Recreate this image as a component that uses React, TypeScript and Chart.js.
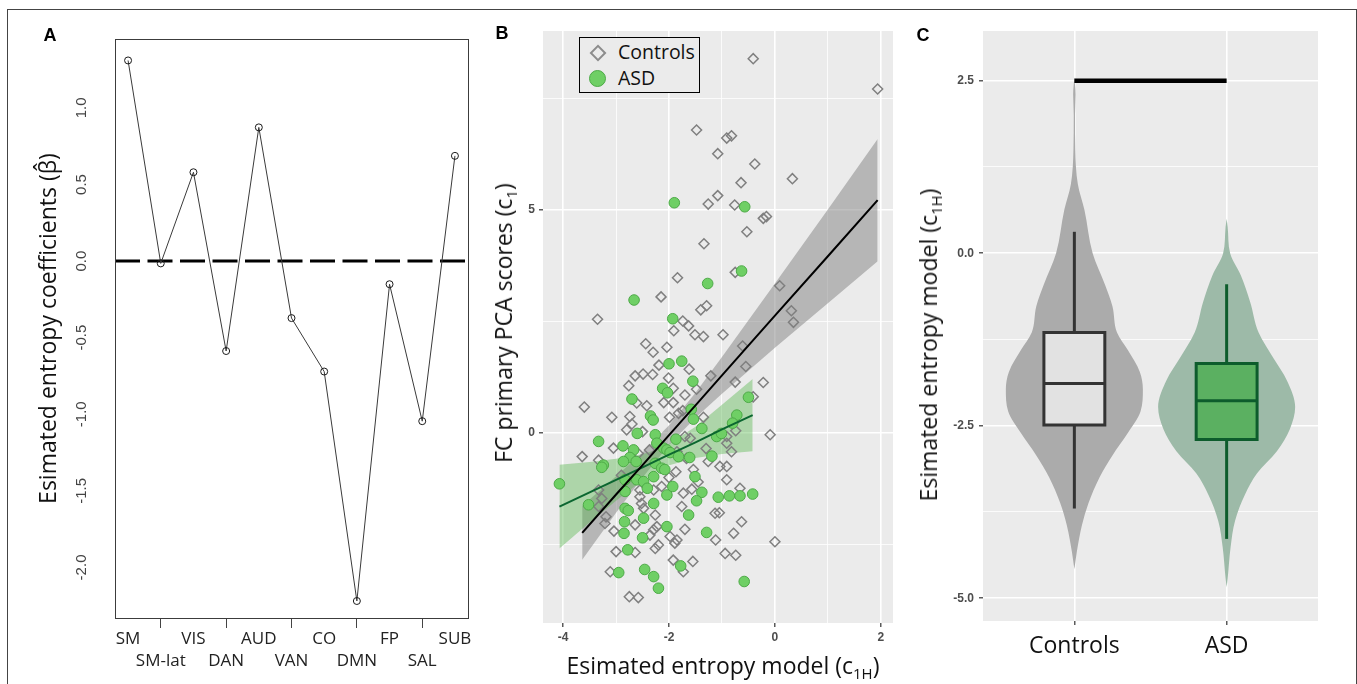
import React, { useEffect, useRef } from 'react';
import { Chart, registerables } from 'chart.js';

Chart.register(...registerables);

// ---------------- Panel A data ----------------
const networkLabels = ['SM', 'SM-lat', 'VIS', 'DAN', 'AUD', 'VAN', 'CO', 'DMN', 'FP', 'SAL', 'SUB'];
const entropyCoefficients = [1.31, -0.015, 0.58, -0.587, 0.873, -0.372, -0.721, -2.219, -0.151, -1.045, 0.687];
const coefficientTicks = [-2.0, -1.5, -1.0, -0.5, 0.0, 0.5, 1.0];
const A_X_MIN = 0.6;
const A_X_MAX = 11.4;

// ---------------- Panel B data ----------------
const controlsEntropy = [
  -1.48, -1.08, -1.26, -1.08, -0.41, 1.94, -0.91, -0.82, -0.38, 0.33, -0.64, -0.76, -1.34, -1.84, -2.15, -3.35,
  -1.29, -1.40, -1.74, -1.63, -1.91, -1.51, -1.35, -2.44, -2.30, -2.04, -2.19, -1.62, -2.64, -2.49, -2.31, -2.01,
  -1.21, -2.76, -1.92, -0.22, -0.16, -0.53, -0.75, 0.09, 0.31, 0.35, -0.98, -0.61, -0.55, -0.75, -0.22, -1.70,
  -1.48, -0.41, -3.60, -2.61, -2.42, -2.10, -1.92, -3.08, -2.74, -1.99, -1.74, -1.82, -1.35, -0.77, -2.80, -2.50,
  -1.70, -1.60, -0.91, -0.91, -0.74, -0.82, -0.09, -3.64, -3.33, -3.05, -2.58, -2.37, -1.85, -1.67, -1.26, -1.04,
  -0.91, -1.87, -1.54, -3.33, -3.27, -3.33, -3.19, -3.21, -2.55, -2.55, -2.29, -2.14, -1.73, -1.57, -0.91, -0.66,
  -1.13, -1.05, -1.76, -2.52, -2.48, -2.26, -2.64, -2.36, -2.29, -2.23, -1.98, -1.85, -1.89, -1.70, -1.12, -0.78,
  -0.63, 0.00, -3.00, -2.64, -2.26, -2.20, -0.94, -0.74, -3.11, -1.92, -1.73, -1.55, -2.75, -2.58, -3.04, -2.90,
  -2.00, -1.45, -1.30, -2.70,
];
const controlsPCA = [
  6.79, 6.26, 5.13, 5.32, 8.39, 7.71, 6.61, 6.66, 6.03, 5.70, 5.61, 5.11, 4.24, 3.48, 3.05, 2.55,
  2.85, 2.76, 2.51, 2.40, 2.29, 2.20, 2.16, 2.00, 1.81, 1.92, 1.52, 1.43, 1.28, 1.32, 1.31, 1.23,
  1.28, 1.06, 1.00, 4.81, 4.85, 4.51, 3.60, 3.30, 2.74, 2.48, 2.20, 1.95, 1.49, 1.14, 1.13, 0.85,
  0.98, 0.81, 0.58, 0.67, 0.61, 0.68, 0.68, 0.35, 0.37, 0.35, 0.50, 0.44, 0.35, 0.25, 0.07, 0.03,
  -0.08, -0.12, -0.08, -0.23, 0.05, -0.42, -0.04, -0.53, -0.61, -0.34, -0.46, -0.38, -0.42, -0.57, -0.64, -0.75,
  -0.75, -0.87, -0.82, -1.28, -1.47, -1.65, -1.88, -2.03, -1.28, -1.43, -1.28, -1.20, -1.35, -1.26, -1.05, -1.24,
  -1.80, -1.79, -1.65, -1.58, -1.69, -1.84, -2.06, -2.29, -2.17, -2.10, -2.32, -2.40, -2.47, -2.16, -2.40, -2.25,
  -1.99, -2.44, -2.66, -2.68, -2.59, -2.51, -2.70, -2.74, -3.11, -2.85, -3.11, -2.88, -3.67, -3.69, -2.20, -0.95,
  -1.00, -1.10, -0.35, 0.20,
];
const asdEntropy = [
  -1.90, -0.57, -1.27, -2.66, -1.93, -2.00, -1.76, -1.55, -2.12, -2.03, -0.63, -0.50, -2.70, -2.35, -2.30, -1.58,
  -1.54, -1.38, -0.72, -0.80, -2.60, -2.26, -2.23, -2.10, -2.04, -1.98, -1.87, -1.61, -1.19, -1.10, -1.01, -3.33,
  -3.24, -3.27, -2.87, -2.67, -2.74, -2.86, -2.62, -2.26, -2.14, -2.08, -1.82, -4.07, -3.52, -2.83, -2.61, -2.48,
  -2.41, -2.29, -2.83, -2.04, -1.93, -1.51, -1.38, -1.48, -1.07, -0.86, -0.66, -0.42, -1.63, -2.29, -2.83, -2.77,
  -2.84, -2.48, -2.04, -2.85, -2.50, -1.29, -2.78, -2.95, -2.46, -2.29, -2.20, -1.78, -0.58,
];
const asdPCA = [
  5.16, 5.07, 3.35, 2.98, 2.56, 1.55, 1.61, 1.16, 1.00, 0.90, 3.63, 0.80, 0.76, 0.38, 0.29, 0.53,
  0.31, 0.10, 0.40, 0.22, -0.01, -0.04, -0.23, -0.34, -0.38, -0.44, -0.14, -0.55, -0.52, -0.08, -0.01, -0.19,
  -0.72, -0.77, -0.29, -0.38, -0.55, -0.64, -0.64, -0.68, -0.79, -0.82, -0.53, -1.14, -1.61, -1.05, -1.05, -1.09,
  -1.24, -0.98, -1.31, -1.39, -1.20, -0.98, -1.33, -1.52, -1.44, -1.41, -1.41, -1.37, -1.84, -1.58, -1.69, -1.74,
  -1.99, -1.91, -2.10, -2.25, -2.35, -2.23, -2.62, -3.13, -3.06, -3.22, -3.48, -2.98, -3.33,
];
const controlsFitX = [-3.64, -3.0, -2.5, -2.0, -1.5, -1.0, 0.0, 1.0, 1.94];
const controlsFitY = [-2.24, -1.38, -0.72, -0.05, 0.62, 1.29, 2.63, 3.96, 5.22];
const controlsBandLow = [-2.84, -1.79, -1.0, -0.27, 0.34, 0.88, 1.91, 2.91, 3.85];
const controlsBandHigh = [-1.64, -0.97, -0.44, 0.17, 0.9, 1.7, 3.35, 5.01, 6.59];
const asdFitX = [-4.07, -3.5, -3.0, -2.5, -2.1, -1.5, -1.0, -0.42];
const asdFitY = [-1.65, -1.33, -1.05, -0.77, -0.54, -0.21, 0.08, 0.4];
const asdBandLow = [-2.59, -2.01, -1.52, -1.06, -0.76, -0.56, -0.47, -0.41];
const asdBandHigh = [-0.71, -0.65, -0.58, -0.48, -0.32, 0.14, 0.63, 1.21];
const scatterXTicks = [-4, -3, -2, -1, 0, 1, 2];
const scatterYTicks = [-2.5, 0, 2.5, 5, 7.5];

// ---------------- Panel C data ----------------
const groupLabels = ['Controls', 'ASD'];
const controlsViolinY = [-4.58, -4.33, -3.94, -3.62, -3.25, -2.93, -2.61, -2.29, -1.97, -1.72, -1.4, -1.15, -0.77, -0.45, 0.0, 0.63, 1.0, 1.5, 2.0, 2.3, 2.55];
const controlsViolinHalf = [0, 0.016, 0.05, 0.093, 0.165, 0.25, 0.35, 0.435, 0.45, 0.43, 0.35, 0.28, 0.25, 0.2, 0.12, 0.066, 0.023, 0.006, 0.004, 0.008, 0];
const asdViolinY = [-4.84, -4.71, -4.26, -3.88, -3.5, -3.19, -2.87, -2.55, -2.23, -1.84, -1.53, -1.15, -0.71, -0.32, 0.0, 0.38, 0.5];
const asdViolinHalf = [0, 0.007, 0.026, 0.055, 0.12, 0.2, 0.33, 0.415, 0.45, 0.395, 0.31, 0.21, 0.155, 0.093, 0.023, 0.007, 0];
// [lower whisker, Q1, median, Q3, upper whisker]
const controlsBoxStats = [-3.7, -2.49, -1.89, -1.15, 0.31];
const asdBoxStats = [-4.14, -2.7, -2.14, -1.6, -0.45];
const significanceLevel = 2.5;
const violinYTicks = [-5, -3.75, -2.5, -1.25, 0, 1.25, 2.5];

const SANS = "'Open Sans', sans-serif";
const TICKFONT = "'Liberation Sans', Arial, sans-serif";
const PANEL_BG = '#EBEBEB';
const TRANSPARENT = 'rgba(0,0,0,0)';

const panelBackground = {
  id: 'panelBackground',
  beforeDraw(chart: any) {
    const { ctx, chartArea } = chart;
    ctx.save();
    ctx.fillStyle = PANEL_BG;
    ctx.fillRect(chartArea.left, chartArea.top, chartArea.right - chartArea.left, chartArea.bottom - chartArea.top);
    ctx.restore();
  },
};

const boxFrame = {
  id: 'boxFrame',
  afterDatasetsDraw(chart: any) {
    const { ctx, chartArea } = chart;
    ctx.save();
    ctx.strokeStyle = '#3c3c3c';
    ctx.lineWidth = 1;
    ctx.strokeRect(chartArea.left + 0.5, chartArea.top + 0.5, chartArea.right - chartArea.left, chartArea.bottom - chartArea.top);
    ctx.restore();
  },
};

function buildChartA(canvas: HTMLCanvasElement) {
  return new Chart(canvas, {
    type: 'line',
    data: {
      datasets: [
        {
          data: entropyCoefficients.map((v, i) => ({ x: i + 1, y: v })),
          borderColor: '#3a3a3a',
          borderWidth: 1,
          pointRadius: 3.5,
          pointBorderWidth: 1,
          pointBorderColor: '#1a1a1a',
          pointBackgroundColor: TRANSPARENT,
          tension: 0,
          fill: false,
          order: 1,
        } as any,
        {
          data: [
            { x: A_X_MIN, y: 0 },
            { x: A_X_MAX, y: 0 },
          ],
          borderColor: '#000',
          borderWidth: 3,
          borderDash: [25, 7.5],
          pointRadius: 0,
          fill: false,
          order: 2,
        },
      ],
    },
    options: {
      animation: false,
      responsive: false,
      events: [],
      layout: { padding: { left: 0, right: 12, top: 29, bottom: 0 } },
      plugins: { legend: { display: false }, tooltip: { enabled: false } },
      scales: {
        x: {
          type: 'linear',
          min: A_X_MIN,
          max: A_X_MAX,
          afterBuildTicks: (s: any) => {
            s.ticks = networkLabels.map((_, i) => ({ value: i + 1 }));
          },
          afterFit: (s: any) => {
            s.height = 66;
          },
          ticks: {
            autoSkip: false,
            maxRotation: 0,
            minRotation: 0,
            padding: 1,
            color: '#222',
            font: { family: SANS, size: 17, lineHeight: 1.25 },
            callback: (v: any) => {
              const i = Math.round(Number(v)) - 1;
              return i % 2 === 0 ? [networkLabels[i]] : ['', networkLabels[i]];
            },
          },
          grid: {
            drawOnChartArea: false,
            tickLength: 10,
            tickWidth: 1,
            tickColor: (c: any) => (c.index % 2 === 1 ? '#444' : TRANSPARENT),
          },
          border: { display: false },
        },
        y: {
          type: 'linear',
          min: -2.33,
          max: 1.45,
          afterBuildTicks: (s: any) => {
            s.ticks = coefficientTicks.map((v) => ({ value: v }));
          },
          afterFit: (s: any) => {
            s.width = 105;
          },
          ticks: {
            minRotation: 90,
            maxRotation: 90,
            crossAlign: 'center',
            padding: 12,
            color: '#444',
            font: { family: TICKFONT, size: 15 },
            callback: (v: any) => Number(v).toFixed(1),
          },
          grid: { display: false },
          border: { display: false },
          title: {
            display: true,
            text: 'Esimated entropy coefficients (β̂)',
            color: '#111',
            font: { family: SANS, size: 23 },
            padding: { top: 26, bottom: 0 },
          },
        },
      },
    } as any,
    plugins: [boxFrame],
  });
}

function buildChartB(canvas: HTMLCanvasElement) {
  const pts = (xs: number[], ys: number[]) => xs.map((x, i) => ({ x, y: ys[i] }));
  const majorX = (v: number) => v % 2 === 0;
  const majorY = (v: number) => v === 0 || v === 5;
  return new Chart(canvas, {
    type: 'scatter',
    data: {
      datasets: [
        // 0 controls fit line
        {
          type: 'line',
          data: pts(controlsFitX, controlsFitY),
          borderColor: '#000',
          borderWidth: 2,
          pointRadius: 0,
          fill: false,
          order: 0,
        },
        // 1 asd fit line
        {
          type: 'line',
          data: pts(asdFitX, asdFitY),
          borderColor: '#0B6630',
          borderWidth: 2,
          pointRadius: 0,
          fill: false,
          order: 0,
        },
        // 2 ASD points
        {
          data: pts(asdEntropy, asdPCA),
          pointStyle: 'circle',
          pointRadius: 5.3,
          backgroundColor: '#6FCF65',
          borderColor: '#4DAA47',
          borderWidth: 1,
          order: 3,
        },
        // 3 Controls points
        {
          data: pts(controlsEntropy, controlsPCA),
          pointStyle: 'rectRot',
          pointRadius: 5,
          backgroundColor: TRANSPARENT,
          borderColor: '#7F7F7F',
          borderWidth: 1.5,
          order: 4,
        },
        // 4 ASD band upper (fills to 5)
        {
          type: 'line',
          data: pts(asdFitX, asdBandHigh),
          borderWidth: 0,
          borderColor: TRANSPARENT,
          pointRadius: 0,
          fill: '+1',
          backgroundColor: 'rgba(80,180,70,0.4)',
          order: 5,
        },
        // 5 ASD band lower
        {
          type: 'line',
          data: pts(asdFitX, asdBandLow),
          borderWidth: 0,
          borderColor: TRANSPARENT,
          pointRadius: 0,
          fill: false,
          order: 8,
        },
        // 6 Controls band upper (fills to 7)
        {
          type: 'line',
          data: pts(controlsFitX, controlsBandHigh),
          borderWidth: 0,
          borderColor: TRANSPARENT,
          pointRadius: 0,
          fill: '+1',
          backgroundColor: 'rgba(130,130,130,0.5)',
          order: 6,
        },
        // 7 Controls band lower
        {
          type: 'line',
          data: pts(controlsFitX, controlsBandLow),
          borderWidth: 0,
          borderColor: TRANSPARENT,
          pointRadius: 0,
          fill: false,
          order: 8,
        },
      ] as any,
    },
    options: {
      animation: false,
      responsive: false,
      events: [],
      layout: { padding: { left: 0, right: 17, top: 21, bottom: 0 } },
      plugins: { legend: { display: false }, tooltip: { enabled: false } },
      scales: {
        x: {
          type: 'linear',
          min: -4.38,
          max: 2.23,
          afterBuildTicks: (s: any) => {
            s.ticks = scatterXTicks.map((v) => ({ value: v }));
          },
          afterFit: (s: any) => {
            s.height = 61;
          },
          ticks: {
            autoSkip: false,
            maxRotation: 0,
            padding: 3,
            color: '#4D4D4D',
            font: { family: TICKFONT, size: 12, weight: 'bold' },
            callback: (v: any) => (majorX(Number(v)) ? String(v) : ''),
          },
          grid: {
            color: '#FFFFFF',
            lineWidth: (c: any) => (c.tick && majorX(c.tick.value) ? 1.6 : 0.8),
            tickLength: 4,
            tickWidth: 1.2,
            tickColor: (c: any) => (c.tick && majorX(c.tick.value) ? '#333' : TRANSPARENT),
          },
          border: { display: false },
        },
        y: {
          type: 'linear',
          min: -4.26,
          max: 9.01,
          afterBuildTicks: (s: any) => {
            s.ticks = scatterYTicks.map((v) => ({ value: v }));
          },
          afterFit: (s: any) => {
            s.width = 63;
          },
          ticks: {
            padding: 4,
            color: '#4D4D4D',
            font: { family: TICKFONT, size: 12, weight: 'bold' },
            callback: (v: any) => (majorY(Number(v)) ? String(v) : ''),
          },
          grid: {
            color: '#FFFFFF',
            lineWidth: (c: any) => (c.tick && majorY(c.tick.value) ? 1.6 : 0.8),
            tickLength: 4,
            tickWidth: 1.2,
            tickColor: (c: any) => (c.tick && majorY(c.tick.value) ? '#333' : TRANSPARENT),
          },
          border: { display: false },
        },
      },
    } as any,
    plugins: [panelBackground],
  });
}

function buildChartC(canvas: HTMLCanvasElement) {
  const boxHalf = 0.2;
  const violin = (ys: number[], halves: number[], center: number, color: string) => [
    {
      data: ys.map((y, i) => ({ x: center - halves[i], y })),
      borderWidth: 0,
      borderColor: TRANSPARENT,
      pointRadius: 0,
      fill: false,
      cubicInterpolationMode: 'monotone',
      order: 10,
    },
    {
      data: ys.map((y, i) => ({ x: center + halves[i], y })),
      borderWidth: 0,
      borderColor: TRANSPARENT,
      pointRadius: 0,
      fill: '-1',
      backgroundColor: color,
      cubicInterpolationMode: 'monotone',
      order: 9,
    },
  ];
  const box = (stats: number[], center: number, fillColor: string, lineColor: string) => {
    const [lo, q1, med, q3, hi] = stats;
    const l = center - boxHalf;
    const r = center + boxHalf;
    const line = { pointRadius: 0, fill: false, borderColor: lineColor, borderWidth: 3 };
    return [
      { ...line, data: [{ x: center, y: q3 }, { x: center, y: hi }], order: 7 },
      { ...line, data: [{ x: center, y: lo }, { x: center, y: q1 }], order: 7 },
      { data: [{ x: l, y: q1 }, { x: l, y: q3 }], borderWidth: 0, borderColor: TRANSPARENT, pointRadius: 0, fill: false, order: 6 },
      { data: [{ x: r, y: q1 }, { x: r, y: q3 }], borderWidth: 0, borderColor: TRANSPARENT, pointRadius: 0, fill: '-1', backgroundColor: fillColor, order: 5 },
      {
        ...line,
        data: [{ x: l, y: q1 }, { x: l, y: q3 }, { x: r, y: q3 }, { x: r, y: q1 }, { x: l, y: q1 }],
        borderJoinStyle: 'miter',
        borderCapStyle: 'square',
        order: 4,
      },
      { ...line, data: [{ x: l, y: med }, { x: r, y: med }], order: 3 },
    ];
  };
  const isMajor = (v: number) => v === -5 || v === -2.5 || v === 0 || v === 2.5;
  return new Chart(canvas, {
    type: 'line',
    data: {
      datasets: [
        ...violin(controlsViolinY, controlsViolinHalf, 1, '#ABABAB'),
        ...violin(asdViolinY, asdViolinHalf, 2, '#9DBAA8'),
        ...box(controlsBoxStats, 1, '#E2E2E2', '#333333'),
        ...box(asdBoxStats, 2, '#5BB061', '#0D5C2C'),
        {
          data: [
            { x: 1, y: significanceLevel },
            { x: 2, y: significanceLevel },
          ],
          borderColor: '#000',
          borderWidth: 4.5,
          pointRadius: 0,
          fill: false,
          order: 0,
        },
      ] as any,
    },
    options: {
      animation: false,
      responsive: false,
      events: [],
      indexAxis: 'y',
      layout: { padding: { left: 0, right: 29, top: 21, bottom: 0 } },
      plugins: { legend: { display: false }, tooltip: { enabled: false } },
      scales: {
        x: {
          type: 'linear',
          min: 0.4,
          max: 2.6,
          afterBuildTicks: (s: any) => {
            s.ticks = groupLabels.map((_, i) => ({ value: i + 1 }));
          },
          afterFit: (s: any) => {
            s.height = 63;
          },
          ticks: {
            autoSkip: false,
            maxRotation: 0,
            padding: 8,
            color: '#111',
            font: { family: SANS, size: 23 },
            callback: (v: any) => groupLabels[Math.round(Number(v)) - 1],
          },
          grid: { color: '#FFFFFF', lineWidth: 1.6, tickLength: 4, tickWidth: 1.2, tickColor: '#333' },
          border: { display: false },
        },
        y: {
          type: 'linear',
          min: -5.33,
          max: 3.22,
          afterBuildTicks: (s: any) => {
            s.ticks = violinYTicks.map((v) => ({ value: v }));
          },
          afterFit: (s: any) => {
            s.width = 73;
          },
          ticks: {
            padding: 5,
            color: '#4D4D4D',
            font: { family: TICKFONT, size: 12, weight: 'bold' },
            callback: (v: any) => (isMajor(Number(v)) ? Number(v).toFixed(1) : ''),
          },
          grid: {
            color: '#FFFFFF',
            lineWidth: (c: any) => (c.tick && isMajor(c.tick.value) ? 1.6 : 0.8),
            tickLength: 4,
            tickWidth: 1.2,
            tickColor: (c: any) => (c.tick && isMajor(c.tick.value) ? '#333' : TRANSPARENT),
          },
          border: { display: false },
        },
      },
    } as any,
    plugins: [panelBackground],
  });
}

const abs = (s: React.CSSProperties): React.CSSProperties => ({ position: 'absolute', ...s });

function RotatedTitle({ x, y, children }: { x: number; y: number; children: React.ReactNode }) {
  return (
    <div
      style={abs({
        left: x,
        top: y,
        transform: 'translate(-50%, -50%) rotate(-90deg)',
        whiteSpace: 'nowrap',
        fontFamily: SANS,
        fontSize: 23,
        lineHeight: '28px',
        color: '#111',
      })}
    >
      {children}
    </div>
  );
}

const subStyle: React.CSSProperties = { fontSize: '65%', verticalAlign: '-0.35em', lineHeight: 0 };

export default function App() {
  const refA = useRef<HTMLCanvasElement>(null);
  const refB = useRef<HTMLCanvasElement>(null);
  const refC = useRef<HTMLCanvasElement>(null);

  useEffect(() => {
    const a = buildChartA(refA.current!);
    const b = buildChartB(refB.current!);
    const c = buildChartC(refC.current!);
    return () => {
      a.destroy();
      b.destroy();
      c.destroy();
    };
  }, []);

  const panelLabel: React.CSSProperties = {
    position: 'absolute',
    fontFamily: TICKFONT,
    fontWeight: 'bold',
    fontSize: 18,
    lineHeight: '18px',
    color: '#000',
    transform: 'translate(-50%, -50%)',
  };

  return (
    <div style={abs({ left: 0, top: 0, width: 1357, height: 684, overflow: 'hidden', background: '#fff' })}>
      <div style={abs({ left: 7, top: 9, width: 1350, height: 700, border: '1px solid #444', boxSizing: 'border-box' })} />

      <canvas ref={refA} width={470} height={674} style={abs({ left: 10, top: 10 })} />
      <canvas ref={refB} width={430} height={674} style={abs({ left: 480, top: 10 })} />
      <canvas ref={refC} width={437} height={674} style={abs({ left: 910, top: 10 })} />

      <div style={{ ...panelLabel, left: 50, top: 35 }}>A</div>
      <div style={{ ...panelLabel, left: 502, top: 33 }}>B</div>
      <div style={{ ...panelLabel, left: 923, top: 35 }}>C</div>

      <RotatedTitle x={503} y={323}>
        FC primary PCA scores (c<sub style={subStyle}>1</sub>)
      </RotatedTitle>
      <div
        style={abs({
          left: 723,
          top: 665,
          transform: 'translate(-50%, -50%)',
          whiteSpace: 'nowrap',
          fontFamily: SANS,
          fontSize: 23,
          lineHeight: '28px',
          color: '#111',
        })}
      >
        Esimated entropy model (c<sub style={subStyle}>1H</sub>)
      </div>
      <RotatedTitle x={928} y={345}>
        Esimated entropy model (c<sub style={subStyle}>1H</sub>)
      </RotatedTitle>

      <div
        style={abs({
          left: 579,
          top: 37,
          width: 121,
          height: 56,
          border: '1.5px solid #000',
          boxSizing: 'border-box',
          background: PANEL_BG,
          fontFamily: SANS,
          fontSize: 19.5,
          color: '#111',
        })}
      >
        <div
          style={abs({
            left: 12,
            top: 9,
            width: 12,
            height: 12,
            border: '2.5px solid #8C8C8C',
            boxSizing: 'border-box',
            transform: 'rotate(45deg)',
          })}
        />
        <div
          style={abs({
            left: 9,
            top: 32,
            width: 17,
            height: 17,
            borderRadius: '50%',
            background: '#6FCF65',
            border: '1.5px solid #4DAA47',
            boxSizing: 'border-box',
          })}
        />
        <div style={abs({ left: 38, top: 4, lineHeight: '20px' })}>Controls</div>
        <div style={abs({ left: 38, top: 30, lineHeight: '20px' })}>ASD</div>
      </div>
    </div>
  );
}
